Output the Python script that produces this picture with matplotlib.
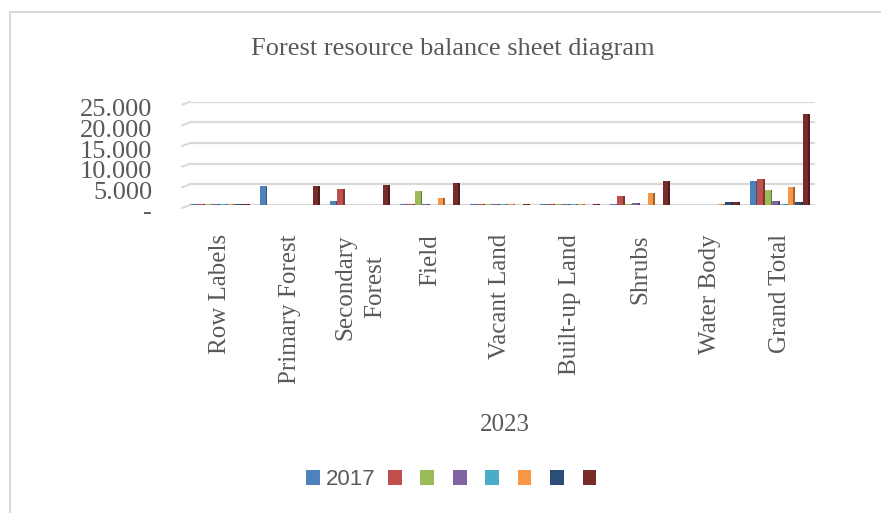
import matplotlib
matplotlib.use("Agg")
import matplotlib.pyplot as plt
import matplotlib.transforms as mtransforms
from matplotlib.lines import Line2D
from matplotlib.patches import Patch
from matplotlib.colors import to_rgb
import numpy as np

nan = np.nan

# chart data
categories = ["Row Labels", "Primary Forest", "Secondary\nForest", "Field", "Vacant Land",
              "Built-up Land", "Shrubs", "Water Body", "Grand Total"]
series_names = ["2017", "", "", "", "", "", "", ""]
s_blue = [250, 4600, 1000, 250, 250, 250, 250, nan, 5700]
s_red = [250, nan, 3900, 250, 250, 250, 2100, nan, 6200]
s_green = [250, nan, nan, 3300, 250, 250, 250, nan, 3600]
s_purple = [250, nan, nan, 250, 250, 250, 400, nan, 900]
s_cyan = [250, nan, nan, nan, 250, 250, nan, nan, 300]
s_orange = [250, nan, nan, 1600, 250, 250, 2800, 250, 4400]
s_navy = [250, nan, nan, nan, nan, nan, nan, 800, 800]
s_darkred = [250, 4500, 4800, 5400, 300, 300, 5900, 800, 22100]
series = [s_blue, s_red, s_green, s_purple, s_cyan, s_orange, s_navy, s_darkred]
colors = ["#4F81BD", "#C0504D", "#9BBB59", "#8064A2", "#4BACC6", "#F79646", "#2C4D75", "#772C2A"]
y_ticks = [0, 5000, 10000, 15000, 20000, 25000]
y_ticklabels = ["-", "5.000", "10.000", "15.000", "20.000", "25.000"]

W, H = 881, 513
grey = "#595959"
serif = ["Liberation Serif", "DejaVu Serif"]

fig = plt.figure(figsize=(W / 100, H / 100), dpi=100)
ax = fig.add_axes([185 / W, 1 - 205 / H, 630 / W, 103.3 / H])

x = np.arange(len(categories))
slot = 0.86 / len(series)
for i, (vals, c) in enumerate(zip(series, colors)):
    vals = np.array(vals, dtype=float)
    left = x - 0.43 + i * slot
    dark = tuple(v * 0.65 for v in to_rgb(c))
    ax.bar(left, vals, width=slot * 0.76, align="edge", color=c, linewidth=0, zorder=3)
    ax.bar(left + slot * 0.76, vals, width=slot * 0.24, align="edge", color=dark,
           linewidth=0, zorder=3)

ax.set_xlim(-0.5, len(categories) - 0.5)
ax.set_ylim(0, 25000)
for s in ax.spines.values():
    s.set_visible(False)

# gridlines (back wall) with small slanted stub on the left
stub_tr = ax.get_yaxis_transform()
for t in y_ticks:
    ax.axhline(t, xmin=5 / 630, xmax=1, color="#D9D9D9", lw=1.6, zorder=1)
    off = mtransforms.offset_copy(stub_tr, fig=fig, x=0, y=-3, units="dots")
    ax.annotate("", xy=(5 / 630, t), xycoords=stub_tr,
                xytext=(-3 / 630, t), textcoords=off,
                arrowprops=dict(arrowstyle="-", color="#D9D9D9", lw=1.4,
                                shrinkA=0, shrinkB=0))

ax.set_yticks(y_ticks)
ax.set_yticklabels(y_ticklabels, fontsize=19, family=serif, color=grey)
ax.tick_params(axis="y", length=0, pad=23.5)
shift = mtransforms.ScaledTranslation(0, -6 / 100, fig.dpi_scale_trans)
for lab in ax.get_yticklabels():
    lab.set_transform(lab.get_transform() + shift)

ax.set_xticks(x)
ax.set_xticklabels(categories, rotation=90, fontsize=18, family=serif, color=grey,
                   va="top", ha="center", multialignment="center", linespacing=1.45)
ax.tick_params(axis="x", length=0, pad=21)

fig.text(453 / W, 1 - 49 / H, "Forest resource balance sheet diagram", fontsize=19,
         family=serif, color=grey, ha="center", va="center")
fig.text(505 / W, 1 - 425 / H, "2023", fontsize=18, family=serif, color=grey,
         ha="center", va="center")

handles = [Patch(facecolor=c, edgecolor="none") for c in colors]
fig.legend(handles, series_names, loc="center", bbox_to_anchor=(454 / W, 1 - 480 / H),
           ncol=8, frameon=False, handlelength=0.62, handleheight=0.62,
           handletextpad=0.26, columnspacing=0.58, borderpad=0,
           prop={"family": ["Liberation Sans", "DejaVu Sans"], "size": 16},
           labelcolor=grey)

# chart border (top and left visible)
fig.add_artist(Line2D([10 / W, 10 / W], [0, 1 - 12 / H], color="#D9D9D9", lw=1.5))
fig.add_artist(Line2D([10 / W, 1], [1 - 12 / H, 1 - 12 / H], color="#D9D9D9", lw=1.5))

fig.savefig("out.png", dpi=100, facecolor="white")
